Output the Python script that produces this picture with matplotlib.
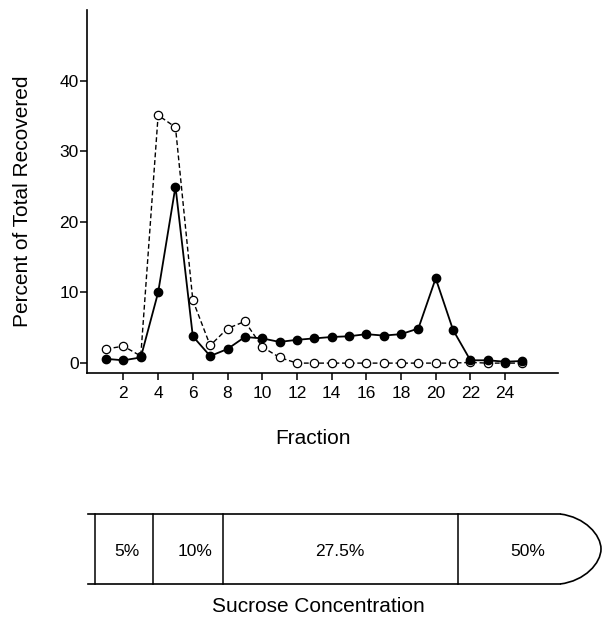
import matplotlib
matplotlib.use("Agg")
import matplotlib.pyplot as plt
from matplotlib.path import Path
from matplotlib.patches import PathPatch
import numpy as np

plt.rcParams['font.family'] = ['Liberation Sans', 'DejaVu Sans']

fractions = list(range(1, 26))
filled = [0.6, 0.4, 0.8, 10.0, 25.0, 3.8, 1.0, 2.0, 3.7, 3.5,
          3.0, 3.3, 3.5, 3.7, 3.8, 4.1, 3.9, 4.1, 4.9, 12.0,
          4.7, 0.4, 0.4, 0.2, 0.3]
open_ = [2.0, 2.4, 1.0, 35.1, 33.4, 8.9, 2.5, 4.9, 5.9, 2.3,
         0.8, 0.0, 0.0, 0.0, 0.0, 0.0, 0.0, 0.0, 0.0, 0.0,
         0.0, 0.1, 0.0, 0.0, 0.0]
xticks = list(range(2, 25, 2))
yticks = [0, 10, 20, 30, 40]

# tube segments (pixel edges) and labels
tube_edges = [95, 153, 223, 458]
tube_labels = ["5%", "10%", "27.5%", "50%"]
tube_label_x = [127, 195, 340, 528]

W, H = 603, 629
fig = plt.figure(figsize=(W / 100, H / 100), dpi=100)

ax = fig.add_axes([87 / W, 1 - 373 / H, (558 - 87) / W, (373 - 10) / H])
ax.plot(fractions, open_, color="black", lw=1.0, ls=(0, (3.5, 2)),
        marker="o", ms=6, mfc="white", mec="black", mew=0.9, zorder=2)
ax.plot(fractions, filled, color="black", lw=1.3, ls="-",
        marker="o", ms=6, mfc="black", mec="black", zorder=3)
ax.set_xlim(-0.1, 27.05)
ax.set_ylim(-1.4, 50)
ax.set_xticks(xticks)
ax.set_yticks(yticks)
for s in ["top", "right"]:
    ax.spines[s].set_visible(False)
for s in ["left", "bottom"]:
    ax.spines[s].set_linewidth(1.2)
ax.tick_params(axis="both", direction="out", length=5, width=1.1,
               labelsize=12.5, pad=4)
ax.tick_params(axis="y", pad=1)

fig.text(313 / W, 1 - 439 / H, "Fraction", ha="center", va="center", fontsize=15)
fig.text(23 / W, 1 - 201 / H, "Percent of Total Recovered", ha="center",
         va="center", rotation=90, fontsize=15)

# sucrose gradient tube, drawn in pixel space
ov = fig.add_axes([0, 0, 1, 1])
ov.set_xlim(0, W)
ov.set_ylim(H, 0)
ov.axis("off")
top, bot = 514, 584
mid = (top + bot) / 2
ov.plot([88, 560], [top, top], color="black", lw=1.2)
ov.plot([88, 560], [bot, bot], color="black", lw=1.2)
for x in tube_edges:
    ov.plot([x, x], [top, bot], color="black", lw=1.1)
verts = [(560, top), (585, top + 3), (601, mid - 14), (601, mid),
         (601, mid + 14), (585, bot - 3), (560, bot)]
codes = [Path.MOVETO, Path.CURVE4, Path.CURVE4, Path.CURVE4,
         Path.CURVE4, Path.CURVE4, Path.CURVE4]
ov.add_patch(PathPatch(Path(verts, codes), fill=False, lw=1.2, ec="black"))
for lab, x in zip(tube_labels, tube_label_x):
    ov.text(x, 551, lab, ha="center", va="center", fontsize=12.5)
ov.text(318, 606, "Sucrose Concentration", ha="center", va="center", fontsize=15)

fig.savefig("out.png", dpi=100)
